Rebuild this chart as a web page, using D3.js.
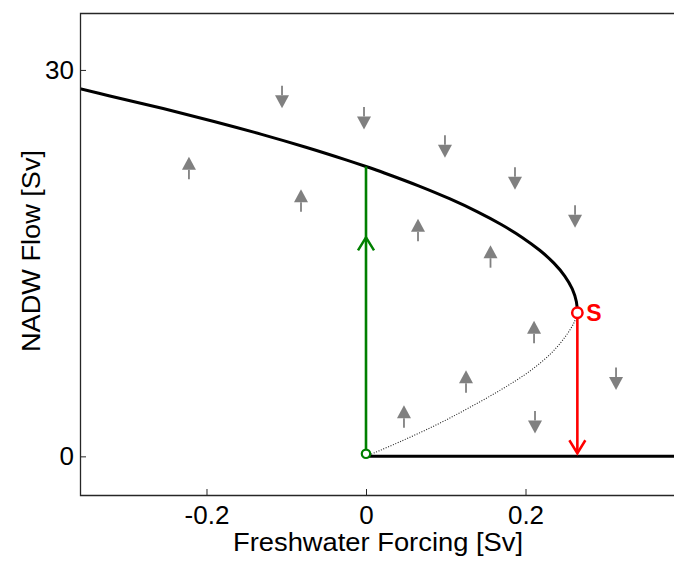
<!DOCTYPE html>
<html>
<head>
<meta charset="utf-8">
<script src="https://cdnjs.cloudflare.com/ajax/libs/d3/7.8.5/d3.min.js"></script>
<style>
  html, body { margin: 0; padding: 0; background: #fff; }
  svg { display: block; }
  text { font-family: "Liberation Sans", Arial, Helvetica, sans-serif; }
</style>
</head>
<body>
<svg id="chart" width="674" height="561"></svg>
<script>
// Stable (upper) equilibrium branch: [freshwater forcing Sv, NADW flow Sv]
const upperBranch = [
  [-0.3586, 28.55], [-0.3225, 28.0], [-0.2544, 27.0], [-0.1906, 26.0],
  [-0.1309, 25.0], [-0.0754, 24.0], [-0.0241, 23.0], [0.0, 22.5],
  [0.023, 22.0], [0.0659, 21.0], [0.1047, 20.0], [0.1392, 19.0],
  [0.1696, 18.0], [0.1958, 17.0], [0.2178, 16.0], [0.2356, 15.0],
  [0.2492, 14.0], [0.2586, 13.0], [0.2638, 12.0], [0.265, 11.15]
];
// Unstable branch (dotted), from the saddle-node S down to the origin
const unstableBranch = [
  [0.265, 11.15], [0.261, 10.4], [0.25, 9.3], [0.232, 8.0], [0.205, 6.6],
  [0.17, 5.2], [0.13, 3.8], [0.09, 2.5], [0.045, 1.2], [0.0, 0.0]
];
// Collapsed ("off") state
const offBranch = [[0.0, 0.0], [0.3937, 0.0]];

// Key points
const saddle = { x: 0.265, y: 11.15, label: "S" };
const origin = { x: 0.0, y: 0.2 };
const recoveryTop = 22.5;   // green jump reaches the upper branch
const recoveryArrowAt = 17.0;
const collapseArrowAt = 0.24;

// Grey flow-direction arrows: centre position and direction (+1 up, -1 down)
const arrowX   = [-0.222, -0.1053, -0.0025, -0.0815, 0.099, 0.0652, 0.1868, 0.1561, 0.2621, 0.2107, 0.1254, 0.0476, 0.2119, 0.3135];
const arrowY   = [22.39, 27.90, 26.24, 19.87, 24.06, 17.58, 21.58, 15.52, 18.63, 9.66, 5.82, 3.10, 2.64, 6.02];
const arrowDir = [1, -1, -1, 1, -1, 1, -1, 1, -1, 1, 1, 1, -1, -1];

// Axis ticks and labels
const xTicks = [-0.2, 0, 0.2];
const xTickLabels = ["-0.2", "0", "0.2"];
const yTicks = [0, 30];
const yTickLabels = ["0", "30"];
const xLabel = "Freshwater Forcing [Sv]";
const yLabel = "NADW Flow [Sv]";

const svg = d3.select("#chart");
const W = 674, H = 561;
const m = { left: 80, right: 680, top: 13, bottom: 495 };

const x = d3.scaleLinear().domain([-0.3586, 0.3937]).range([m.left, m.right]);
const y = d3.scaleLinear().domain([-3, 34.42]).range([m.bottom, m.top]);

svg.append("defs").append("clipPath").attr("id", "plotClip")
  .append("rect").attr("x", m.left).attr("y", m.top)
  .attr("width", m.right - m.left).attr("height", m.bottom - m.top);

const plot = svg.append("g").attr("clip-path", "url(#plotClip)");

const line = d3.line().x(d => x(d[0])).y(d => y(d[1]));
const smooth = d3.line().x(d => x(d[0])).y(d => y(d[1])).curve(d3.curveCatmullRom.alpha(0.5));

// Unstable branch
plot.append("path").datum(unstableBranch)
  .attr("d", smooth).attr("fill", "none")
  .attr("stroke", "#222").attr("stroke-width", 1.1)
  .attr("stroke-dasharray", "1,1.6");

// Stable branches
plot.append("path").datum(upperBranch)
  .attr("d", smooth).attr("fill", "none")
  .attr("stroke", "#000").attr("stroke-width", 3);
plot.append("path").datum(offBranch)
  .attr("d", line).attr("fill", "none")
  .attr("stroke", "#000").attr("stroke-width", 3);

// Grey flow arrows
const arrowLen = 22.5, headH = 13, headW = 14;
const arrows = plot.append("g").attr("fill", "#808080").attr("stroke", "#808080");
arrowX.forEach((ax, i) => {
  const cx = x(ax), cy = y(arrowY[i]), d = arrowDir[i];
  const tip = cy - d * arrowLen / 2;
  const tail = cy + d * arrowLen / 2;
  const base = tip + d * headH;
  arrows.append("line")
    .attr("x1", cx).attr("x2", cx).attr("y1", base).attr("y2", tail)
    .attr("stroke-width", 1.8);
  arrows.append("path")
    .attr("d", `M${cx},${tip}L${cx - headW / 2},${base}L${cx + headW / 2},${base}Z`)
    .attr("stroke", "none");
});

// Open arrowhead on a vertical jump
function chevron(g, cx, tipY, dir, color) {
  const h = 13, w = 8;
  g.append("path")
    .attr("d", `M${cx - w},${tipY + dir * h}L${cx},${tipY}L${cx + w},${tipY + dir * h}`)
    .attr("fill", "none").attr("stroke", color).attr("stroke-width", 2.5)
    .attr("stroke-linejoin", "miter");
}

// Recovery jump (green)
const green = "#008000";
plot.append("line")
  .attr("x1", x(origin.x)).attr("x2", x(origin.x))
  .attr("y1", y(origin.y)).attr("y2", y(recoveryTop))
  .attr("stroke", green).attr("stroke-width", 2.6);
chevron(plot, x(origin.x), y(recoveryArrowAt), 1, green);

// Collapse jump (red)
const red = "#ff0000";
plot.append("line")
  .attr("x1", x(saddle.x)).attr("x2", x(saddle.x))
  .attr("y1", y(saddle.y)).attr("y2", y(collapseArrowAt))
  .attr("stroke", red).attr("stroke-width", 2.6);
chevron(plot, x(saddle.x), y(collapseArrowAt), -1, red);

// Bifurcation markers
plot.append("circle")
  .attr("cx", x(origin.x)).attr("cy", y(origin.y)).attr("r", 4.2)
  .attr("fill", "#fff").attr("stroke", green).attr("stroke-width", 2.2);
plot.append("circle")
  .attr("cx", x(saddle.x)).attr("cy", y(saddle.y)).attr("r", 5.2)
  .attr("fill", "#fff").attr("stroke", red).attr("stroke-width", 2.5);
svg.append("text")
  .attr("x", x(saddle.x) + 9).attr("y", y(saddle.y) + 8.3)
  .attr("fill", red).attr("font-weight", "bold").attr("font-size", 23)
  .text(saddle.label);

// Axes
const axisColor = "#262626";
const xAxis = d3.axisBottom(x).tickValues(xTicks)
  .tickFormat((d, i) => xTickLabels[i]).tickSize(-6).tickPadding(11);
const gx = svg.append("g").attr("transform", `translate(0,${m.bottom})`).call(xAxis);
const yAxis = d3.axisLeft(y).tickValues(yTicks)
  .tickFormat((d, i) => yTickLabels[i]).tickSize(-6).tickPadding(6);
const gy = svg.append("g").attr("transform", `translate(${m.left},0)`).call(yAxis);

[gx, gy].forEach(g => {
  g.select(".domain").remove();
  g.selectAll(".tick line").attr("stroke", axisColor).attr("stroke-width", 1);
  g.selectAll(".tick text").attr("fill", "#000").attr("font-size", 26)
    .attr("font-family", "Liberation Sans, Arial, sans-serif");
});

// Frame (left, top, bottom)
svg.append("path")
  .attr("d", `M${W},${m.top + 0.5}H${m.left + 0.5}V${m.bottom + 0.5}H${W}`)
  .attr("fill", "none").attr("stroke", axisColor).attr("stroke-width", 1.3);

// Axis titles
svg.append("text")
  .attr("x", 378).attr("y", 551)
  .attr("text-anchor", "middle").attr("font-size", 25)
  .attr("textLength", 290).attr("lengthAdjust", "spacingAndGlyphs")
  .attr("fill", "#000").text(xLabel);
svg.append("text")
  .attr("transform", `translate(40,251) rotate(-90)`)
  .attr("text-anchor", "middle").attr("font-size", 25)
  .attr("textLength", 202).attr("lengthAdjust", "spacingAndGlyphs")
  .attr("fill", "#000").text(yLabel);
</script>
</body>
</html>
